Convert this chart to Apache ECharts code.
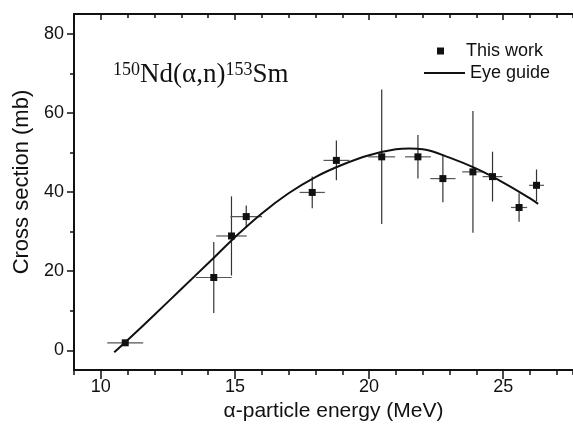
<!DOCTYPE html>
<html>
<head>
<meta charset="utf-8">
<script src="https://cdn.jsdelivr.net/npm/echarts@6/dist/echarts.min.js"></script>
<style>
  html, body { margin: 0; padding: 0; background: #fff; }
  #chart { width: 573px; height: 427px; }
</style>
</head>
<body>
<div id="chart"></div>
<script>
// measured points (energy in MeV, cross section in mb)
var energy    = [10.91, 14.21, 14.87, 15.42, 17.88, 18.78, 20.47, 21.82, 22.75, 23.87, 24.6, 25.59, 26.24];
var energyErr = [0.67, 0.67, 0.57, 0.59, 0.47, 0.48, 0.5, 0.48, 0.47, 0.4, 0.37, 0.3, 0.28];
var crossSec  = [1.9, 18.4, 28.9, 33.8, 39.9, 48.0, 48.9, 48.9, 43.4, 45.1, 43.9, 36.1, 41.7];
var crossErr  = [0, 9, 10, 2.8, 4, 5, 17, 5.5, 6, 15.4, 6.3, 3.6, 4];

// eye guide curve
var guideE  = [10.5, 11, 12, 13, 14, 15, 16, 17, 18, 19, 20, 21, 21.5, 22, 23, 24, 25, 26, 26.3];
var guideCs = [-0.5, 2.6, 9.0, 15.5, 22.0, 28.6, 34.6, 39.7, 43.8, 46.9, 49.3, 50.8, 51.0, 50.8, 48.7, 45.9, 42.4, 38.4, 37.0];

var xMajor = [10, 15, 20, 25];
var yMajor = [0, 20, 40, 60, 80];
var yMinor = [10, 30, 50, 70];

var sans = '"Liberation Sans", Arial, sans-serif';
var serif = '"Liberation Serif", "Times New Roman", serif';

var points = [], bars = [], guide = [];
for (var i = 0; i < energy.length; i++) {
    points.push([energy[i], crossSec[i]]);
    bars.push([energy[i], crossSec[i], energyErr[i], crossErr[i]]);
}
for (var j = 0; j < guideE.length; j++) {
    guide.push([guideE[j], guideCs[j]]);
}

var chart = echarts.init(document.getElementById('chart'));

function baseX(extra) {
    var ax = {
        type: 'value', min: 9, max: 27.6, gridIndex: 0,
        splitLine: { show: false },
        axisLine: { show: false, onZero: false },
        axisTick: { show: false },
        axisLabel: { show: false }
    };
    for (var k in extra) ax[k] = extra[k];
    return ax;
}
function baseY(extra) {
    var ax = {
        type: 'value', min: -5, max: 85, gridIndex: 0,
        splitLine: { show: false },
        axisLine: { show: false, onZero: false },
        axisTick: { show: false },
        axisLabel: { show: false }
    };
    for (var k in extra) ax[k] = extra[k];
    return ax;
}

var option = {
    backgroundColor: '#fff',
    animation: false,
    grid: { left: 74, top: 14, right: 0, bottom: 55 },
    xAxis: [
        baseX({
            position: 'bottom',
            name: 'α-particle energy (MeV)',
            nameLocation: 'middle',
            nameGap: 29,
            nameTextStyle: { fontFamily: sans, fontSize: 21, color: '#111', padding: [0, 0, 0, 20] },
            axisLine: { show: true, onZero: false, lineStyle: { color: '#111', width: 2 } },
            axisTick: { show: true, customValues: xMajor, length: 9, lineStyle: { color: '#111', width: 1.5 } },
            axisLabel: { show: true, customValues: xMajor, margin: 8, fontFamily: sans, fontSize: 18, color: '#111' }
        }),
        baseX({
            position: 'bottom', interval: 1,
            axisTick: { show: true, length: 5, lineStyle: { color: '#111', width: 1.5 } }
        }),
        baseX({
            position: 'top',
            axisLine: { show: true, onZero: false, lineStyle: { color: '#111', width: 2 } },
            axisTick: { show: true, inside: true, customValues: xMajor, length: 6, lineStyle: { color: '#111', width: 1.5 } }
        }),
        baseX({
            position: 'top', interval: 1,
            axisTick: { show: true, inside: true, length: 4, lineStyle: { color: '#111', width: 1.5 } }
        })
    ],
    yAxis: [
        baseY({
            position: 'left',
            name: 'Cross section (mb)',
            nameLocation: 'middle',
            nameGap: 40,
            nameTextStyle: { fontFamily: sans, fontSize: 22, color: '#111', padding: [0, 0, 0, 20] },
            axisLine: { show: true, onZero: false, lineStyle: { color: '#111', width: 2 } },
            axisTick: { show: true, customValues: yMajor, length: 7, lineStyle: { color: '#111', width: 1.5 } },
            axisLabel: { show: true, customValues: yMajor, margin: 10, fontFamily: sans, fontSize: 18, color: '#111' }
        }),
        baseY({
            position: 'left',
            axisTick: { show: true, customValues: yMinor, length: 4, lineStyle: { color: '#111', width: 1.5 } }
        })
    ],
    legend: [
        {
            data: [{ name: 'This work', icon: 'rect' }],
            left: 432, top: 37,
            itemWidth: 7, itemHeight: 7,
            textStyle: { fontFamily: sans, fontSize: 18, color: '#111', padding: [0, 0, 0, 17] },
            selectedMode: false
        },
        {
            data: [{ name: 'Eye guide', icon: 'rect' }],
            left: 419, top: 59,
            itemWidth: 41, itemHeight: 2,
            textStyle: { fontFamily: sans, fontSize: 18, color: '#111' },
            selectedMode: false
        }
    ],
    graphic: [{
        type: 'text',
        left: 113, top: 61,
        style: {
            text: '{sup|150}{main|Nd(α,n)}{sup|153}{main|Sm}',
            fill: '#111',
            rich: {
                sup: { fontFamily: serif, fontSize: 18, verticalAlign: 'top', fill: '#111' },
                main: { fontFamily: serif, fontSize: 27, fill: '#111' }
            }
        }
    }],
    series: [
        {
            name: 'error',
            type: 'custom',
            xAxisIndex: 0, yAxisIndex: 0,
            data: bars,
            renderItem: function (params, api) {
                var x = api.value(0), y = api.value(1), dx = api.value(2), dy = api.value(3);
                var l = api.coord([x - dx, y]), r = api.coord([x + dx, y]);
                var t = api.coord([x, y + dy]), b = api.coord([x, y - dy]);
                var children = [{
                    type: 'line',
                    shape: { x1: l[0], y1: l[1], x2: r[0], y2: r[1] },
                    style: { stroke: '#555', lineWidth: 1.2 }
                }];
                if (dy > 0) {
                    children.push({
                        type: 'line',
                        shape: { x1: t[0], y1: t[1], x2: b[0], y2: b[1] },
                        style: { stroke: '#333', lineWidth: 1.2 }
                    });
                }
                return { type: 'group', children: children };
            },
            z: 2
        },
        {
            name: 'Eye guide',
            type: 'line',
            xAxisIndex: 0, yAxisIndex: 0,
            data: guide,
            smooth: 0.4,
            showSymbol: false,
            symbol: 'none',
            lineStyle: { color: '#111', width: 2 },
            itemStyle: { color: '#111' },
            z: 3
        },
        {
            name: 'This work',
            type: 'scatter',
            xAxisIndex: 0, yAxisIndex: 0,
            data: points,
            symbol: 'rect',
            symbolSize: 7,
            itemStyle: { color: '#111', opacity: 1 },
            z: 4
        }
    ]
};
chart.setOption(option);
</script>
</body>
</html>
